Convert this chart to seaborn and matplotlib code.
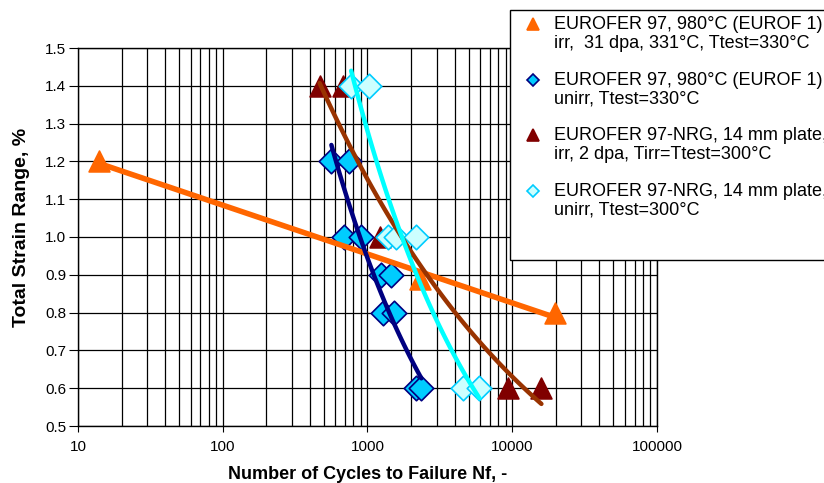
import numpy as np
import pandas as pd
import matplotlib
matplotlib.use("Agg")
import matplotlib.pyplot as plt
import seaborn as sns
from matplotlib.patches import Rectangle
from matplotlib.lines import Line2D
from matplotlib.ticker import LogLocator, NullFormatter, FixedLocator

# ---- data ----
orange_n = [14, 2300, 19800]
orange_e = [1.2, 0.89, 0.8]
blue_n = [563, 740, 692, 903, 1243, 1443, 1270, 1536, 2180, 2356]
blue_e = [1.2, 1.2, 1.0, 1.0, 0.9, 0.9, 0.8, 0.8, 0.6, 0.6]
red_n = [467, 676, 1211, 9380, 15900]
red_e = [1.4, 1.4, 1.0, 0.6, 0.6]
cyan_n = [771, 1032, 1380, 1574, 2163, 4540, 5920]
cyan_e = [1.4, 1.4, 1.0, 1.0, 1.0, 0.6, 0.6]

labels = [
    "EUROFER 97, 980°C (EUROF 1)\nirr,  31 dpa, 331°C, Ttest=330°C",
    "EUROFER 97, 980°C (EUROF 1),\nunirr, Ttest=330°C",
    "EUROFER 97-NRG, 14 mm plate,\nirr, 2 dpa, Tirr=Ttest=300°C",
    "EUROFER 97-NRG, 14 mm plate,\nunirr, Ttest=300°C",
]
x_ticks = [10, 100, 1000, 10000, 100000]
y_ticks = [0.5, 0.6, 0.7, 0.8, 0.9, 1.0, 1.1, 1.2, 1.3, 1.4, 1.5]

sns.set_style("white")
plt.rcParams['font.family'] = ['Liberation Sans', 'DejaVu Sans']
plt.rcParams.update({"text.color": "black", "axes.labelcolor": "black",
                     "xtick.color": "black", "ytick.color": "black"})

W, H = 824, 483
fig = plt.figure(figsize=(W / 100, H / 100), dpi=100)
ax = fig.add_axes([78 / W, 1 - 426 / H, (657 - 78) / W, (426 - 48) / H])

ax.set_xscale("log")
ax.set_xlim(10, 100000)
ax.set_ylim(0.5, 1.5)

# grid
ax.xaxis.set_major_locator(FixedLocator(x_ticks))
ax.xaxis.set_minor_locator(LogLocator(base=10, subs=np.arange(2, 10)))
ax.xaxis.set_minor_formatter(NullFormatter())
ax.set_xticklabels([str(v) for v in x_ticks])
ax.set_yticks(y_ticks)
ax.set_yticklabels([f"{v:.1f}" for v in y_ticks])
ax.grid(True, which="both", axis="x", color="black", lw=0.9)
ax.grid(True, which="major", axis="y", color="black", lw=0.9)
ax.set_axisbelow(True)
for s in ax.spines.values():
    s.set_color("black")
    s.set_linewidth(1.0)
ax.tick_params(axis="x", which="major", labelsize=11, length=4.5, color="black",
               labelcolor="black", direction="out", bottom=True, pad=5.5)
ax.tick_params(axis="y", which="major", labelsize=11, length=6.5, color="black",
               labelcolor="black", direction="out", left=True, pad=2)
ax.tick_params(axis="x", which="minor", length=0)

# markers
series = [
    (orange_n, orange_e, "^", "#FF6600", "#FF6600", 15 ** 2),
    (blue_n, blue_e, "D", "#00CCFF", "#000080", 12.5 ** 2),
    (red_n, red_e, "^", "#800000", "#800000", 15 ** 2),
    (cyan_n, cyan_e, "D", "#CCFFFF", "#00CCFF", 12.5 ** 2),
]
for xs, ys, m, fc, ec, s in series:
    sns.scatterplot(x=xs, y=ys, marker=m, s=s, color=fc, edgecolor=ec,
                    linewidth=1.2, ax=ax, zorder=3, legend=False)

# trend lines fitted to each series (orange: logarithmic, others: power law)
trend = [
    (orange_n, orange_e, "#FF6600", 4.0, "log"),
    (blue_n, blue_e, "#000080", 3.2, "power"),
    (red_n, red_e, "#993300", 3.2, "power"),
    (cyan_n, cyan_e, "#00FFFF", 3.2, "power"),
]
for xs, ys, col, lw, kind in trend:
    xg = np.logspace(np.log10(min(xs)), np.log10(max(xs)), 100)
    if kind == "log":
        b, a = np.polyfit(np.log(xs), ys, 1)
        yg = a + b * np.log(xg)
    else:
        b, a = np.polyfit(np.log(xs), np.log(ys), 1)
        yg = np.exp(a) * xg ** b
    sns.lineplot(x=xg, y=yg, color=col, lw=lw, ax=ax, zorder=4,
                 solid_capstyle="round", legend=False)

ax.set_xlabel("Number of Cycles to Failure Nf, -", fontsize=13, fontweight="bold",
              labelpad=9, color="black")
ax.set_ylabel("Total Strain Range, %", fontsize=14, fontweight="bold", color="black")
ax.yaxis.set_label_coords(-0.083, 0.526)

# legend box (extends beyond right edge)
fig.add_artist(Rectangle((510 / W, 1 - 260 / H), (840 - 510) / W, (260 - 10) / H,
                         transform=fig.transFigure, facecolor="white",
                         edgecolor="black", lw=1.0, zorder=10))
handles = [("^", "#FF6600", "#FF6600"), ("D", "#00CCFF", "#000080"),
           ("^", "#800000", "#800000"), ("D", "#CCFFFF", "#00CCFF")]
for i, (lab, (m, fc, ec)) in enumerate(zip(labels, handles)):
    ytop = 24 + 55.7 * i
    ms = 9 if m == "^" else 6.5
    fig.add_artist(Line2D([533 / W], [1 - ytop / H], marker=m, markersize=ms,
                          markerfacecolor=fc, markeredgecolor=ec, markeredgewidth=1.2,
                          linestyle="none", transform=fig.transFigure, zorder=11))
    fig.text(554 / W, 1 - (ytop - 8) / H, lab, fontsize=13, va="top", ha="left",
             linespacing=1.12, color="black", zorder=11)

fig.savefig("out.png", dpi=100)
